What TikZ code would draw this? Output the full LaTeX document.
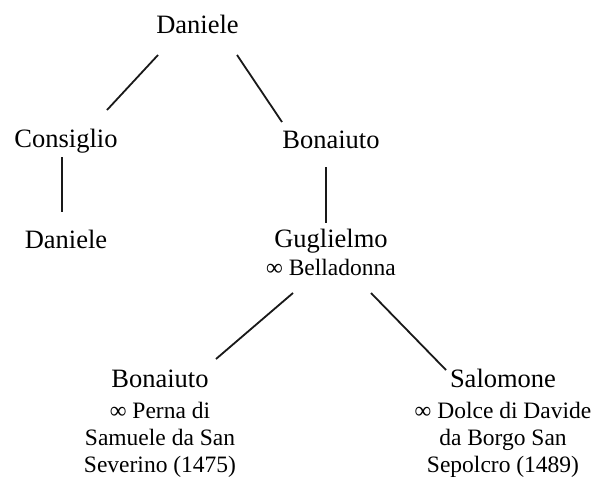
\documentclass[tikz,border=0pt]{standalone}
\usepackage{fontspec}
\setmainfont{Liberation Serif}
\usetikzlibrary{calc}
\begin{document}
\begin{tikzpicture}[x=1pt,y=-1pt,
  person/.style={anchor=base,inner sep=0pt,font=\fontsize{26.5}{30}\selectfont},
  sub/.style={anchor=base,inner sep=0pt,font=\fontsize{23.5}{27}\selectfont},
  link/.style={line width=1.8pt,black!90}]
\useasboundingbox (0,0) rectangle (597,479);
% names
\node[person] (d1)   at (197.5,33) {Daniele};
\node[person] (cons) at (66,147)   {Consiglio};
\node[person] (bon1) at (331,148)  {Bonaiuto};
\node[person] (d2)   at (66,248)   {Daniele};
\node[person] (gug)  at (331,247)  {Guglielmo};
\node[sub]    (bella) at (331,275) {∞ Belladonna};
\node[person] (bon2) at (160,387)  {Bonaiuto};
\node[sub]    (bon2a) at (160,418) {∞ Perna di};
\node[sub]    (bon2b) at (160,445) {Samuele da San};
\node[sub]    (bon2c) at (160,472) {Severino (1475)};
\node[person] (sal)  at (503,387)  {Salomone};
\node[sub]    (sala) at (503,418)  {∞ Dolce di Davide};
\node[sub]    (salb) at (503,445)  {da Borgo San};
\node[sub]    (salc) at (503,472)  {Sepolcro (1489)};
% connectors
\draw[link] ($(d1.base)+(-39.5,22)$) -- ($(cons.base)+(41,-37)$);
\draw[link] ($(d1.base)+(39.5,22)$) -- ($(bon1.base)+(-49,-26)$);
\draw[link] ($(cons.base)+(-4,10)$) -- ($(d2.base)+(-4,-36)$);
\draw[link] ($(bon1.base)+(-5,19)$) -- ($(gug.base)+(-5,-24)$);
\draw[link] ($(bella.base)+(-38,18)$) -- ($(bon2.base)+(56,-28)$);
\draw[link] ($(bella.base)+(40,18)$) -- ($(sal.base)+(-57,-17)$);
\end{tikzpicture}
\end{document}
